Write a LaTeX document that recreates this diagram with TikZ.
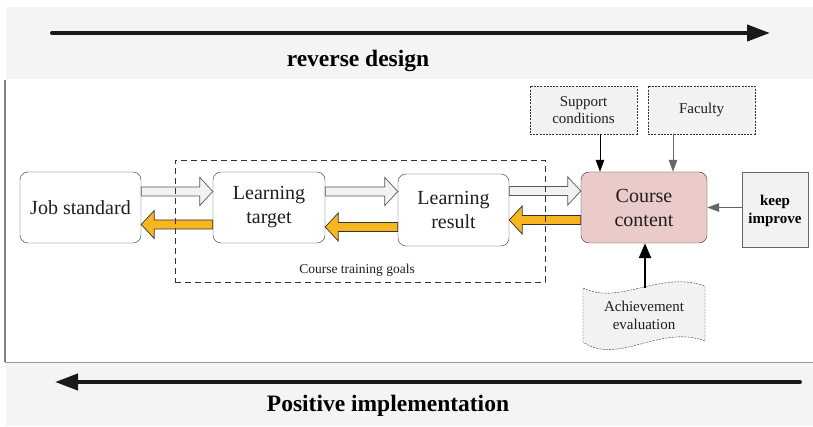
\documentclass[tikz,border=0pt]{standalone}
\usepackage{fontspec}
\setmainfont{Liberation Serif}
\usetikzlibrary{arrows.meta,calc}

\definecolor{bandgray}{HTML}{F4F4F4}
\definecolor{boxline}{HTML}{333333}
\definecolor{pinkfill}{HTML}{EACBCA}
\definecolor{goldfill}{HTML}{F7B520}
\definecolor{lightfill}{HTML}{F2F2F2}
\definecolor{textgray}{HTML}{1E1E1E}

\tikzset{
  stage/.style={draw=boxline, rounded corners=8pt, fill=white, align=center,
    text=textgray, font=\fontsize{20}{24}\selectfont, inner sep=0pt},
  side/.style={draw=boxline, dash pattern=on 2pt off 1.2pt, fill=lightfill, align=center,
    text=textgray, font=\fontsize{15}{17}\selectfont, inner sep=0pt,
    minimum width=107pt, minimum height=48pt},
  fwd/.style={draw=black!65, fill=lightfill, line width=0.7pt},
  back/.style={draw=black!80, fill=goldfill, line width=0.7pt},
  feed/.style={-{Triangle[length=12pt,width=8.5pt]}, line width=1pt},
  band/.style={anchor=base, font=\bfseries\fontsize{23.5}{26}\selectfont},
  bigarrow/.style={line width=4pt, line cap=round, -{Triangle[length=23pt,width=16pt]}}
}

% block arrow from the x of #2 to the x of #3, at the height of #2
\newcommand{\blockarrow}[3]{%
  \path[#1] let \p1=#2, \p2=#3, \n1={(\x2>\x1) ? 1 : -1} in
    (\x1,\y1+4.5pt) -- (\x2-\n1*13pt,\y1+4.5pt) -- (\x2-\n1*13pt,\y1+14pt) -- (\x2,\y1)
    -- (\x2-\n1*13pt,\y1-14pt) -- (\x2-\n1*13pt,\y1-4.5pt) -- (\x1,\y1-4.5pt) -- cycle;}

\begin{document}
\begin{tikzpicture}[x=1pt, y=-1pt]
    \useasboundingbox (0,0) rectangle (813,427);

    % top and bottom bands
    \fill[bandgray] (6,7) rectangle (813,79);
    \fill[bandgray] (6,363) rectangle (813,426);
    \draw[black!50, line width=2pt] (5,80) -- (5,362);
    \draw[black!40] (5,362.5) -- (813,362.5);

    \coordinate (rdstart) at (52,33);
    \coordinate (rdend) at (770,33);
    \draw[bigarrow, black!90] (rdstart) -- (rdend);
    \node[band] (rd) at (358,67) {reverse design};

    \coordinate (pistart) at (800,382);
    \coordinate (piend) at (55,382);
    \draw[bigarrow, black!90] (pistart) -- (piend);
    \node[band] (pi) at (388,411) {Positive implementation};

    % main chain
    \node[stage, minimum width=121pt, minimum height=71pt] (js) at (80.5,207.5) {Job standard};
    \node[stage, minimum width=112pt, minimum height=71pt] (lt) at (269,207.5) {Learning\\target};
    \node[stage, minimum width=111pt, minimum height=72pt] (lr) at (453.5,210) {Learning\\result};
    \node[stage, fill=pinkfill, minimum width=126pt, minimum height=71pt] (cc) at (644,207.5) {Course\\content};

    \blockarrow{fwd}{([yshift=16pt]js.east)}{(lt.west)}
    \blockarrow{fwd}{([yshift=16pt]lt.east)}{(lr.west)}
    \blockarrow{fwd}{([yshift=19pt]lr.east)}{(cc.west)}
    \blockarrow{back}{([yshift=-17pt]lt.west)}{(js.east)}
    \blockarrow{back}{([yshift=-17pt]lr.west)}{(lt.east)}
    \blockarrow{back}{([yshift=-12.5pt]cc.west)}{(lr.east)}

    \node[draw=black!80, dash pattern=on 6pt off 4pt, minimum width=370pt, minimum height=122pt] (goals) at (360,221) {};
    \node[font=\fontsize{13.5}{15}\selectfont, text=textgray] (goalslabel) at (357,270) {Course training goals};

    % inputs of the course content
    \node[side] (sc) at (583.5,110) {Support\\conditions};
    \node[side] (fac) at (701.5,110) {Faculty};
    \node[draw=black!60, line width=1pt, fill=lightfill, minimum width=66pt, minimum height=75pt,
      align=center, inner sep=0pt, font=\bfseries\fontsize{15}{18}\selectfont] (ki) at (775,210.5) {keep\\improve};

    \draw[feed] ([xshift=16.5pt]sc.south) -- ([xshift=16.5pt]sc.south |- cc.north);
    \draw[feed, black!60] ([xshift=-28.5pt]fac.south) -- ([xshift=-28.5pt]fac.south |- cc.north);
    \draw[feed, black!60] (ki.west |- cc.east) -- (cc.east);

    \filldraw[fill=lightfill, draw=boxline, dash pattern=on 2pt off 1.2pt]
      (583,288) .. controls (620,306) and (660,270) .. (705,286) -- (705,341)
      .. controls (660,324) and (618,366) .. (583,342) -- cycle;
    \node[align=center, text=textgray, font=\fontsize{15}{18}\selectfont] (ae) at (644,315) {Achievement\\evaluation};
    \coordinate (aetop) at (645,288);
    \draw[line width=2.5pt, -{Triangle[length=15pt,width=12pt]}] (aetop) -- (aetop |- cc.south);
\end{tikzpicture}
\end{document}
